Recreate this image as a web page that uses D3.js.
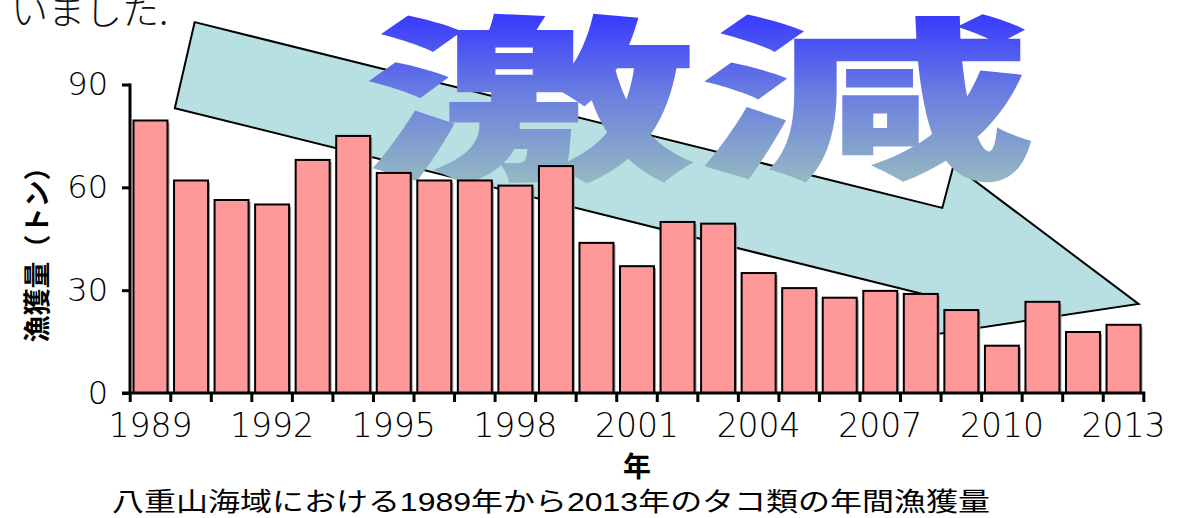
<!DOCTYPE html>
<html><head><meta charset="utf-8">
<script src="https://cdn.jsdelivr.net/npm/d3@7"></script>
<style>
html,body{margin:0;padding:0;background:#fff;}
svg{display:block;}
</style></head>
<body>
<svg id="chart" width="1188" height="518"></svg>
<script>
// ---- data ----
const years = d3.range(1989, 2014);
const catch_tons = [79.5, 62, 56.3, 55, 68, 75, 64.2, 62, 62, 60.5, 66.2, 43.8, 37, 49.9, 49.4,
                    35, 30.6, 27.8, 29.8, 28.9, 24.2, 13.8, 26.6, 17.8, 19.9];
const yTicks = [0, 30, 60, 90];
const xTickLabels = [1989, 1992, 1995, 1998, 2001, 2004, 2007, 2010, 2013];
const headline = "激減";
const topText = "いました.";
const yTitle = "漁獲量（トン）";
const xTitle = "年";
const caption = "八重山海域における1989年から2013年のタコ類の年間漁獲量";
// trend arrow outline in (year, tons) space
const arrowPts = [[1990.09,108.2],[2008.53,54.0],[2008.81,66.5],[2013.37,26.0],
                  [2007.72,16.0],[2008.0,29.0],[1989.60,83.1]];

const svg = d3.select("#chart");
const x = d3.scaleBand().domain(years).range([130, 1144]).paddingInner(0.162).paddingOuter(0.086);
const y = d3.scaleLinear().domain([0, 90]).range([393, 84.5]);
const xc = d3.scaleLinear().domain([1989, 2013])
  .range([x(1989) + x.bandwidth()/2, x(2013) + x.bandwidth()/2]);

const defs = svg.append("defs");
// gradient in the headline's local coordinates (baseline at 0)
const g = defs.append("linearGradient").attr("id","hg")
  .attr("gradientUnits","userSpaceOnUse").attr("x1",0).attr("x2",0).attr("y1",-157).attr("y2",13);
g.append("stop").attr("offset",0).attr("stop-color","#3535ff");
g.append("stop").attr("offset",0.5).attr("stop-color","#6a7ee0");
g.append("stop").attr("offset",1).attr("stop-color","#93b7c2");

// top-left cut text
svg.append("text").attr("x", 11).attr("y", 25)
  .attr("font-family","'Noto Sans CJK JP'").attr("font-weight",300)
  .attr("font-size", 37).attr("fill","#111").text(topText);

// arrow
svg.append("path")
  .attr("d", d3.line().x(d => xc(d[0])).y(d => y(d[1]))(arrowPts) + "Z")
  .attr("fill", "#b8dfe2").attr("stroke", "#000").attr("stroke-width", 2)
  .attr("stroke-linejoin","miter");

// headline
svg.append("text").attr("transform","translate(697,166) scale(1.89,1)")
  .attr("text-anchor","middle").attr("font-family","'Noto Sans CJK JP'").attr("font-weight",900)
  .attr("font-size",178).attr("fill","url(#hg)").text(headline);

// bars: shadow + bar
const gap = x.step() * x.paddingInner();
svg.append("g").selectAll("rect").data(years).join("rect")
  .attr("x", d => x(d) + 2).attr("y", (d,i) => y(catch_tons[i]) + 2)
  .attr("width", x.bandwidth()).attr("height", (d,i) => y(0) - y(catch_tons[i]) - 2)
  .attr("fill", "#9a9a9a");
svg.append("g").selectAll("rect").data(years).join("rect")
  .attr("x", d => x(d)).attr("y", (d,i) => y(catch_tons[i]))
  .attr("width", x.bandwidth()).attr("height", (d,i) => y(0) - y(catch_tons[i]))
  .attr("fill", "#ff9999").attr("stroke", "#000").attr("stroke-width", 2);

// y axis
const yAxis = d3.axisLeft(y).tickValues(yTicks).tickSize(8).tickPadding(14);
const ya = svg.append("g").attr("transform","translate(130,0)").call(yAxis);
ya.select(".domain").remove();
ya.selectAll(".tick line").attr("stroke","#000").attr("stroke-width",3);
ya.selectAll(".tick text").attr("font-family","'DejaVu Sans'").attr("font-weight",200)
  .attr("font-size",32).attr("fill","#000");
svg.append("line").attr("x1",130).attr("x2",130).attr("y1",y(90)-1).attr("y2",y(0))
  .attr("stroke","#000").attr("stroke-width",3);

// x axis
svg.append("line").attr("x1",122).attr("x2",x(2013)+x.bandwidth()+gap/2+1.5).attr("y1",y(0)).attr("y2",y(0))
  .attr("stroke","#000").attr("stroke-width",3);
const tickPos = years.map(d => x(d) - gap/2).concat([x(2013) + x.bandwidth() + gap/2]);
svg.append("g").selectAll("line").data(tickPos).join("line")
  .attr("x1", d => d).attr("x2", d => d).attr("y1", y(0)).attr("y2", y(0) + 9)
  .attr("stroke","#000").attr("stroke-width",3);
svg.append("g").selectAll("text").data(xTickLabels).join("text")
  .attr("x", d => x(d) + x.bandwidth()/2).attr("y", 437)
  .attr("text-anchor","middle").attr("font-family","'DejaVu Sans'").attr("font-weight",200)
  .attr("font-size",33).attr("fill","#000").text(d => d);

// titles
svg.append("text").attr("transform","translate(47,248) rotate(-90)")
  .attr("text-anchor","middle").attr("font-family","'Noto Sans CJK JP'").attr("font-weight",700)
  .attr("font-size",27).attr("fill","#000").text(yTitle);
svg.append("text").attr("x",637).attr("y",477).attr("text-anchor","middle")
  .attr("font-family","'Noto Sans CJK JP'").attr("font-weight",700)
  .attr("font-size",28).attr("fill","#000").text(xTitle);
svg.append("text").attr("x",112).attr("y",511)
  .attr("font-family","'Liberation Sans','Noto Sans CJK JP'").attr("font-weight",400)
  .attr("font-size",26).attr("fill","#000")
  .attr("textLength",878).attr("lengthAdjust","spacingAndGlyphs").text(caption);
</script>
</body></html>
